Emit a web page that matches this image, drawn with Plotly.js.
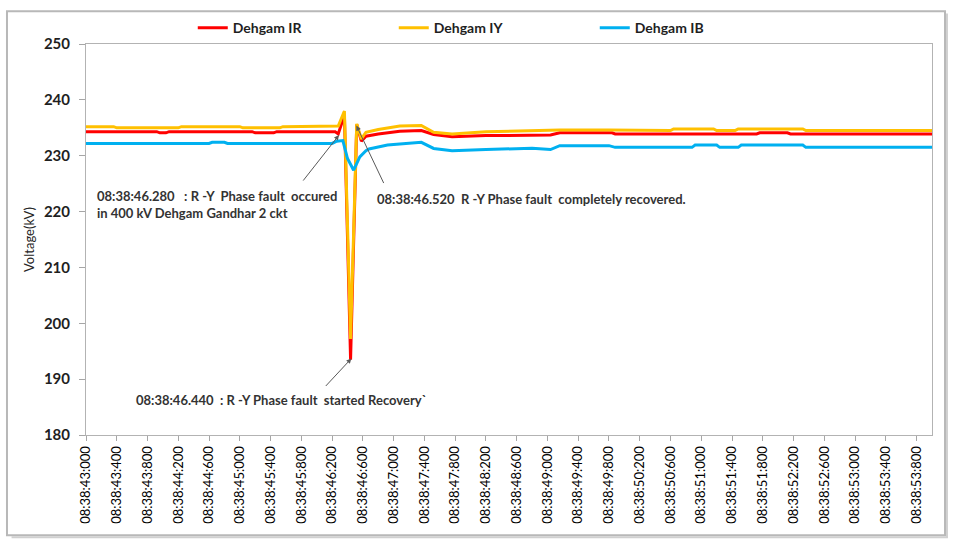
<!DOCTYPE html>
<html>
<head>
<meta charset="utf-8">
<script src="https://cdn.plot.ly/plotly-3.0.1.min.js"></script>
<style>
html,body{margin:0;padding:0;background:#fff;}
#chart{width:954px;height:545px;}
</style>
</head>
<body>
<div id="chart"></div>
<script>
// Seconds within 08:38 (time axis)
const timesIR = [43.00,43.92,43.96,44.04,44.08,45.16,45.20,45.44,45.48,46.24,46.28,46.36,46.44,46.52,46.58,46.64,46.80,47.08,47.36,47.52,47.76,48.20,49.04,49.16,49.84,49.88,51.72,51.76,52.12,52.16,54.00];
const valuesIR = [234.3,234.3,234.1,234.1,234.3,234.3,234.1,234.1,234.3,234.3,233.9,237.3,193.5,235.6,232.6,233.5,233.9,234.4,234.5,233.8,233.4,233.6,233.7,234.1,234.1,233.9,233.9,234.1,234.1,233.9,233.9];

const timesIY = [43.00,43.36,43.40,44.20,44.24,45.00,45.04,45.52,45.56,46.28,46.36,46.44,46.52,46.58,46.64,46.80,47.08,47.36,47.52,47.76,48.20,49.04,49.16,49.80,50.20,50.60,50.64,51.16,51.20,51.44,51.48,52.32,52.36,54.00];
const valuesIY = [235.2,235.2,235.0,235.0,235.2,235.2,235.0,235.0,235.2,235.3,238.0,197.2,235.7,233.0,234.2,234.7,235.3,235.4,234.2,233.9,234.3,234.5,234.6,234.6,234.5,234.5,234.8,234.8,234.5,234.5,234.8,234.8,234.5,234.5];

const timesIB = [43.00,44.60,44.64,44.80,44.84,46.20,46.26,46.34,46.40,46.48,46.56,46.64,46.68,46.84,46.92,47.08,47.36,47.52,47.76,48.20,48.80,49.04,49.16,49.80,49.88,50.88,50.92,51.20,51.24,51.48,51.52,52.32,52.36,54.00];
const valuesIB = [232.2,232.2,232.4,232.4,232.2,232.2,232.6,232.7,229.5,227.4,229.8,230.9,231.2,231.7,231.9,232.1,232.4,231.3,230.9,231.1,231.35,231.1,231.8,231.8,231.5,231.5,231.9,231.9,231.5,231.5,231.9,231.9,231.5,231.5];

const seriesNames = ['Dehgam IR','Dehgam IY','Dehgam IB'];
const seriesColors = ['#FF0000','#FFC000','#00B0F0'];

const tickTimes = [43.0,43.4,43.8,44.2,44.6,45.0,45.4,45.8,46.2,46.6,47.0,47.4,47.8,48.2,48.6,49.0,49.4,49.8,50.2,50.6,51.0,51.4,51.8,52.2,52.6,53.0,53.4,53.8];
const tickLabels = ['08:38:43:000','08:38:43:400','08:38:43:800','08:38:44:200','08:38:44:600','08:38:45:000','08:38:45:400','08:38:45:800','08:38:46:200','08:38:46:600','08:38:47:000','08:38:47:400','08:38:47:800','08:38:48:200','08:38:48:600','08:38:49:000','08:38:49:400','08:38:49:800','08:38:50:200','08:38:50:600','08:38:51:000','08:38:51:400','08:38:51:800','08:38:52:200','08:38:52:600','08:38:53:000','08:38:53:400','08:38:53:800'];

const FONT = 'Lato, "Open Sans", "Liberation Sans", sans-serif';
const allT = [timesIR, timesIY, timesIB];
const allV = [valuesIR, valuesIY, valuesIB];

const traces = seriesNames.map((n,i)=>({
  type:'scatter', mode:'lines', name:n,
  x: allT[i], y: allV[i],
  line:{color:seriesColors[i], width:3},
  hoverinfo:'skip'
}));

const annFont = {family:FONT, size:13, color:'#333333', weight:'bold'};
const arrowCommon = {text:'', showarrow:true, arrowhead:2, arrowsize:1, arrowwidth:1, arrowcolor:'#595959', standoff:0, startstandoff:0};

const layout = {
  width:954, height:545,
  margin:{l:86, r:22, t:41, b:110},
  paper_bgcolor:'#ffffff', plot_bgcolor:'#ffffff',
  font:{family:FONT, color:'#000'},
  showlegend:true,
  legend:{orientation:'h', x:0.1262, xanchor:'left', y:1.0406, yanchor:'middle',
          entrywidth:156, entrywidthmode:'pixels',
          font:{family:FONT, size:14, color:'#1f1f1f', weight:'bold'}, bgcolor:'rgba(0,0,0,0)'},
  xaxis:{range:[43.0,54.0], tickmode:'array', tickvals:tickTimes, ticktext:tickLabels,
         tickangle:-90, tickfont:{family:FONT, size:13, color:'#000'},
         ticks:'outside', ticklen:5, tickcolor:'#a6a6a6',
         showgrid:false, zeroline:false, showline:true, mirror:true, linecolor:'#b3b3b3', linewidth:1},
  yaxis:{range:[180,250], dtick:10, tickfont:{family:FONT, size:15, color:'#1f1f1f', weight:'bold'},
         ticks:'outside', ticklen:6, tickcolor:'#a6a6a6', ticklabelstandoff:6,
         showgrid:false, zeroline:false, showline:true, mirror:true, linecolor:'#b3b3b3', linewidth:1,
         title:{text:'Voltage(kV)', font:{family:FONT, size:13, color:'#262626'}, standoff:6}},
  shapes:[
    {type:'rect', xref:'paper', yref:'paper', x0:-0.0934, x1:1.0154, y0:-0.2563, y1:1.0838,
     line:{color:'#b8b8b8', width:2}, fillcolor:'rgba(0,0,0,0)', layer:'below'},
    {type:'path', xref:'paper', yref:'paper', path:'M 1.0177 1.078 L 1.0177 -0.2614 L -0.088 -0.2614',
     line:{color:'#d0d0d0', width:2}, layer:'below'}
  ],
  annotations:[
    {xref:'paper', yref:'paper', x:0.0106, y:0.590, xanchor:'left', yanchor:'middle', align:'left', showarrow:false,
     text:'08:38:46.280   : R -Y  Phase fault  occured<br>in 400 kV Dehgam Gandhar 2 ckt', font:annFont},
    {xref:'paper', yref:'paper', x:0.3416, y:0.604, xanchor:'left', yanchor:'middle', align:'left', showarrow:false,
     text:'08:38:46.520  R -Y Phase fault  completely recovered.', font:annFont},
    {xref:'paper', yref:'paper', x:0.0567, y:0.0888, xanchor:'left', yanchor:'middle', align:'left', showarrow:false,
     text:'08:38:46.440  : R -Y Phase fault  started Recovery`', font:annFont},
    Object.assign({xref:'x', yref:'y', x:46.29, y:233.7, ax:-37, ay:47}, arrowCommon),
    Object.assign({xref:'x', yref:'y', x:46.516, y:235.4, ax:28, ay:59}, arrowCommon),
    Object.assign({xref:'x', yref:'y', x:46.451, y:193.7, ax:-27, ay:29}, arrowCommon)
  ]
};

Plotly.newPlot('chart', traces, layout, {displayModeBar:false, staticPlot:true});
</script>
</body>
</html>
